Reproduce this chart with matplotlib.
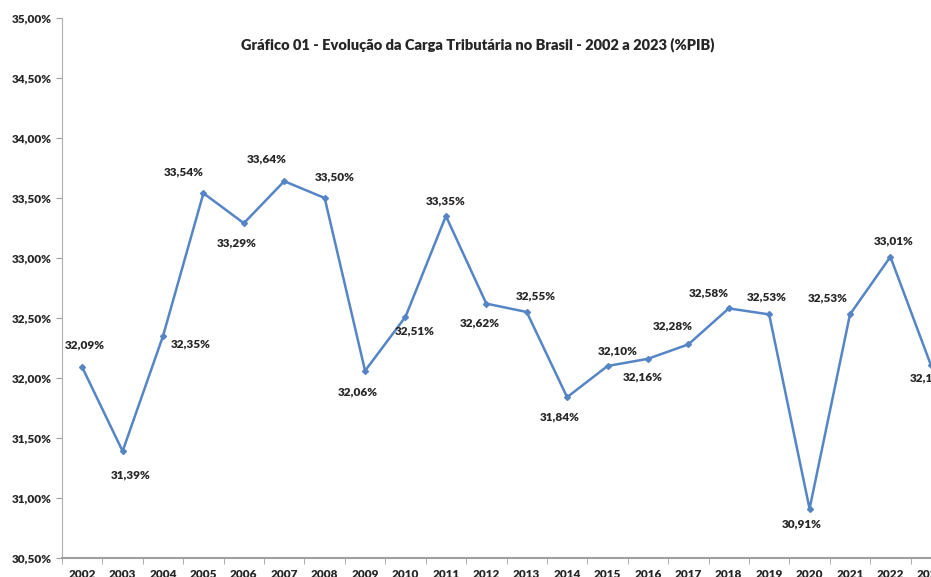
import matplotlib.pyplot as plt
from matplotlib.ticker import FuncFormatter, FixedLocator

# Carga tributaria (% do PIB)
anos = [str(a) for a in range(2002, 2024)]
carga = [32.09, 31.39, 32.35, 33.54, 33.29, 33.64, 33.50, 32.06, 32.51, 33.35,
         32.62, 32.55, 31.84, 32.10, 32.16, 32.28, 32.58, 32.53, 30.91, 32.53,
         33.01, 32.11]
yticks = [30.5, 31.0, 31.5, 32.0, 32.5, 33.0, 33.5, 34.0, 34.5, 35.0]
titulo = 'Gráfico 01 - Evolução da Carga Tributária no Brasil - 2002 a 2023 (%PIB)'

# deslocamento dos rotulos (pixels)
desloc = [(3, 22), (8, -24), (28, -8), (-20, 21), (-7, -20), (-18, 22), (10, 21),
          (-7, -21), (9, -14), (0, 15), (-7, -19), (9, 16), (-7, -20), (10, 15),
          (-5, -18), (-16, 18), (-20, 15), (-2, 17), (-8, -15), (-22, 16), (3, 16),
          (-1, -13)]

plt.rcParams['font.family'] = ['Lato', 'DejaVu Sans']

fig = plt.figure(figsize=(9.31, 5.77), dpi=100)
ax = fig.add_axes([62/931, 19/577, 889/931, 540/577])

x = list(range(len(anos)))
ax.plot(x, carga, color='#5585C5', lw=1.8, marker='D', ms=3, zorder=3)

for xi, v, (dx, dy) in zip(x, carga, desloc):
    ax.annotate(f'{v:.2f}%'.replace('.', ','), (xi, v), xytext=(dx, dy),
                textcoords='offset pixels', ha='center', va='center',
                fontsize=8.5, fontweight='heavy', color='#262626')

ax.set_xlim(-0.5, len(anos) - 0.5)
ax.set_ylim(30.5, 35.0)
ax.yaxis.set_major_locator(FixedLocator(yticks))
ax.yaxis.set_major_formatter(FuncFormatter(lambda v, p: f'{v:.2f}%'.replace('.', ',')))
ax.set_xticks(x)
ax.set_xticklabels(anos)
ax.set_xticks([i - 0.5 for i in range(len(anos) + 1)], minor=True)
ax.tick_params(axis='x', which='major', length=0, pad=8, labelsize=8.5, labelcolor='#262626')
ax.tick_params(axis='x', which='minor', length=4, color='#A0A0A0')
ax.tick_params(axis='y', length=4, color='#A0A0A0', labelsize=8.5, labelcolor='#262626')
for lbl in ax.get_xticklabels() + ax.get_yticklabels():
    lbl.set_fontweight('heavy')

for s in ['top', 'right']:
    ax.spines[s].set_visible(False)
ax.spines['left'].set_color('#B0B0B0')
ax.spines['bottom'].set_color('#A0A0A0')
ax.spines['bottom'].set_linewidth(1.5)

fig.text(478/931, 1 - 45/577, titulo, ha='center', va='center',
         fontsize=10.5, fontweight='heavy', color='#262626')

fig.savefig('out.png', dpi=100)
